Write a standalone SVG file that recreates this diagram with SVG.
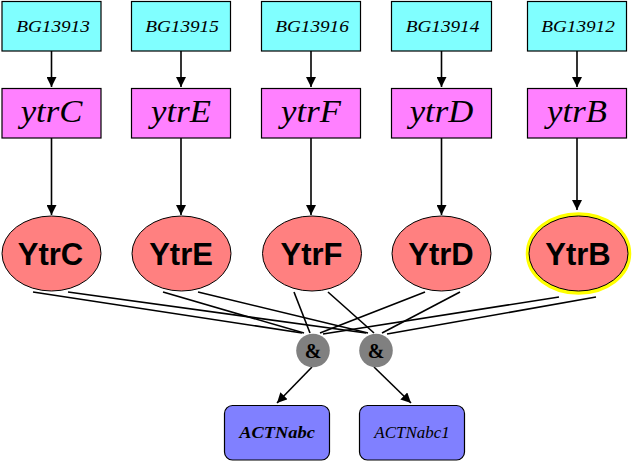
<svg xmlns="http://www.w3.org/2000/svg" width="634" height="462" viewBox="0 0 634 462">
<style>
.gene{fill:#80ffff;stroke:#000;stroke-width:1.2}
.mrna{fill:#ff80ff;stroke:#000;stroke-width:1.2}
.prot{fill:#ff8080;stroke:#000;stroke-width:1}
.and{fill:#808080}
.out{fill:#8080ff;stroke:#000;stroke-width:1.2}
.bg{font-family:"Liberation Serif",serif;font-style:italic;font-size:17.5px;text-anchor:middle;fill:#000}
.ytr{font-family:"Liberation Serif",serif;font-style:italic;font-size:31px;text-anchor:middle;fill:#000}
.pl{font-family:"Liberation Sans",Arial,sans-serif;font-weight:bold;font-size:31px;text-anchor:middle;fill:#000}
.amp{font-family:"Liberation Serif",serif;font-weight:bold;font-size:20px;text-anchor:middle;fill:#000}
.ol{font-family:"Liberation Serif",serif;font-style:italic;font-size:16px;text-anchor:middle;fill:#000}
.e{stroke:#000;stroke-width:1.6;fill:none}
.a{stroke:#000;stroke-width:1.6;fill:none;marker-end:url(#ah)}
</style>
<defs>
<marker id="ah" markerUnits="userSpaceOnUse" markerWidth="10" markerHeight="10" viewBox="0 0 10 10" refX="10" refY="5" orient="auto">
<path d="M0,0 L10,5 L0,10 z" fill="#000"/>
</marker>
</defs>
<g id="connectors">
<line class="a" x1="51.5" y1="51" x2="51.5" y2="87"/>
<line class="a" x1="181" y1="51" x2="181" y2="87"/>
<line class="a" x1="311" y1="51" x2="311" y2="87"/>
<line class="a" x1="441.5" y1="51" x2="441.5" y2="87"/>
<line class="a" x1="577" y1="51" x2="577" y2="87"/>
<line class="a" x1="51.5" y1="138" x2="51.5" y2="215"/>
<line class="a" x1="181" y1="138" x2="181" y2="215"/>
<line class="a" x1="311" y1="138" x2="311" y2="215"/>
<line class="a" x1="441.5" y1="138" x2="441.5" y2="215"/>
<line class="a" x1="577" y1="138" x2="577" y2="210"/>
<line class="e" x1="33" y1="292" x2="302" y2="333"/>
<line class="e" x1="163" y1="292" x2="304" y2="333"/>
<line class="e" x1="294" y1="292" x2="310" y2="333"/>
<line class="e" x1="425" y1="292" x2="320" y2="333"/>
<line class="e" x1="559" y1="297" x2="323" y2="334"/>
<line class="e" x1="68" y1="292" x2="366" y2="333"/>
<line class="e" x1="198" y1="292" x2="368" y2="333"/>
<line class="e" x1="328" y1="292" x2="374" y2="333"/>
<line class="e" x1="460" y1="292" x2="382" y2="333"/>
<line class="e" x1="596" y1="297" x2="387" y2="334"/>
<line class="a" x1="312" y1="367" x2="277" y2="403"/>
<line class="a" x1="374" y1="367" x2="411" y2="403"/>
</g>
<g id="BG13913"><rect class="gene" x="2" y="1.5" width="99" height="49.5"/><text class="bg" transform="translate(53,32) scale(1.1,1)">BG13913</text></g>
<g id="BG13915"><rect class="gene" x="131.5" y="1.5" width="99" height="49.5"/><text class="bg" transform="translate(182,32) scale(1.1,1)">BG13915</text></g>
<g id="BG13916"><rect class="gene" x="261.5" y="1.5" width="99" height="49.5"/><text class="bg" transform="translate(312,32) scale(1.1,1)">BG13916</text></g>
<g id="BG13914"><rect class="gene" x="391.5" y="1.5" width="100" height="49.5"/><text class="bg" transform="translate(442.5,32) scale(1.1,1)">BG13914</text></g>
<g id="BG13912"><rect class="gene" x="527.5" y="1.5" width="99" height="49.5"/><text class="bg" transform="translate(578,32) scale(1.1,1)">BG13912</text></g>
<g id="ytrC"><rect class="mrna" x="2" y="88.5" width="99" height="49.5"/><text class="ytr" transform="translate(51.5,122) scale(1.12,1)">ytrC</text></g>
<g id="ytrE"><rect class="mrna" x="131.5" y="88.5" width="99" height="49.5"/><text class="ytr" transform="translate(181,122) scale(1.12,1)">ytrE</text></g>
<g id="ytrF"><rect class="mrna" x="261.5" y="88.5" width="99" height="49.5"/><text class="ytr" transform="translate(311,122) scale(1.12,1)">ytrF</text></g>
<g id="ytrD"><rect class="mrna" x="391.5" y="88.5" width="100" height="49.5"/><text class="ytr" transform="translate(441.5,122) scale(1.12,1)">ytrD</text></g>
<g id="ytrB"><rect class="mrna" x="527.5" y="88.5" width="99" height="49.5"/><text class="ytr" transform="translate(577,122) scale(1.12,1)">ytrB</text></g>
<g id="YtrC"><ellipse class="prot" cx="51.5" cy="253.5" rx="49.5" ry="37.5"/><text class="pl" x="50.5" y="265">YtrC</text></g>
<g id="YtrE"><ellipse class="prot" cx="181.5" cy="253.5" rx="49.5" ry="37.5"/><text class="pl" x="181" y="265">YtrE</text></g>
<g id="YtrF"><ellipse class="prot" cx="312" cy="253.5" rx="49.5" ry="37.5"/><text class="pl" x="311.5" y="265">YtrF</text></g>
<g id="YtrD"><ellipse class="prot" cx="441.5" cy="253.5" rx="49.5" ry="37.5"/><text class="pl" x="441" y="265">YtrD</text></g>
<g id="YtrB"><ellipse cx="578.5" cy="253.5" rx="50" ry="38.5" fill="none" stroke="#ffff00" stroke-width="5.5"/><ellipse class="prot" cx="578.5" cy="253.5" rx="49.5" ry="37.5"/><text class="pl" x="578" y="265">YtrB</text></g>
<g id="and1"><circle class="and" cx="313" cy="350.5" r="16.8"/><text class="amp" x="313" y="357.5">&amp;</text></g>
<g id="and2"><circle class="and" cx="376" cy="350.5" r="16.8"/><text class="amp" x="376" y="357.5">&amp;</text></g>
<g id="ACTNabc"><rect class="out" x="224.5" y="405.5" width="105" height="54.5" rx="8"/><text class="ol" font-weight="bold" transform="translate(277,438) scale(1.15,1)">ACTNabc</text></g>
<g id="ACTNabc1"><rect class="out" x="359.5" y="405.5" width="105" height="54.5" rx="8"/><text class="ol" transform="translate(412,438) scale(1.06,1)">ACTNabc1</text></g>
</svg>
